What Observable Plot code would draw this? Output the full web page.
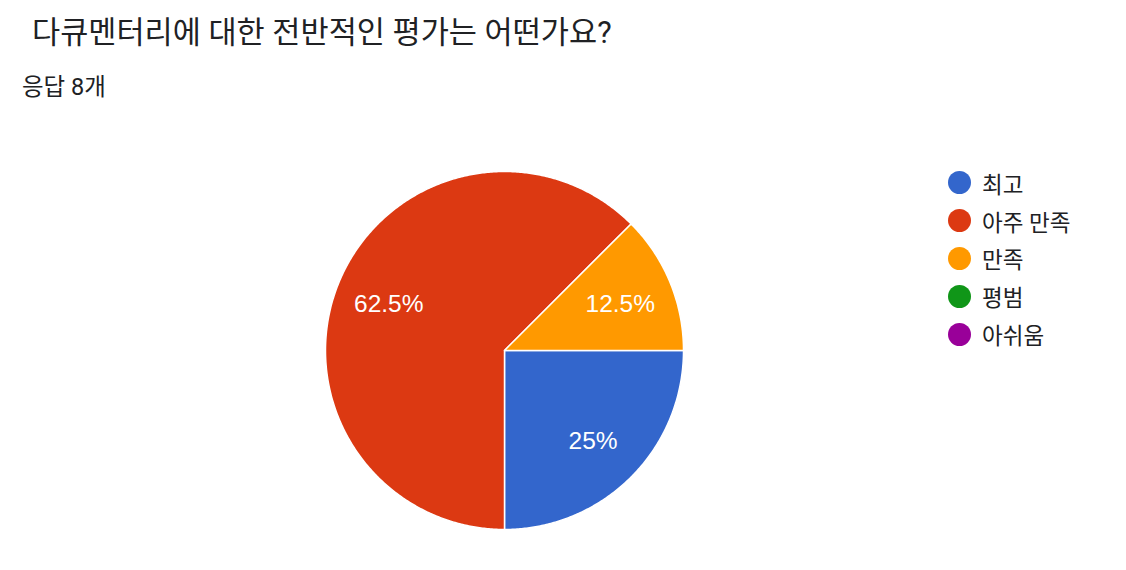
<!DOCTYPE html>
<html><head><meta charset="utf-8">
<script src="https://cdn.jsdelivr.net/npm/d3@7"></script>
<script src="https://cdn.jsdelivr.net/npm/@observablehq/plot@0.6"></script>
<style>
body{margin:0;background:#fff;font-family:Roboto,"Noto Sans CJK KR",sans-serif;}
#wrap{position:relative;width:1126px;height:570px;overflow:hidden}
#head{height:110px;position:relative}
#title{position:absolute;left:32px;top:12px;font-size:30.6px;color:#202124;white-space:nowrap;line-height:42px}
#sub{position:absolute;left:22px;top:72px;font-size:23.5px;color:#202124;white-space:nowrap;line-height:30px}
#legend{position:absolute;left:948px;top:164px}
.row{display:flex;align-items:center;height:37.8px;font-size:22.5px;color:#202124;white-space:nowrap}
.dot{width:23px;height:23px;border-radius:50%;margin-right:11px;flex:none}
</style></head>
<body>
<div id="wrap">
  <div id="head"><div id="title"></div><div id="sub"></div></div>
  <div id="chart"></div>
  <div id="legend"></div>
</div>
<script>
const titleText = "다큐멘터리에 대한 전반적인 평가는 어떤가요?";
const subtitleText = "응답 8개";
const categories = ["최고", "아주 만족", "만족", "평범", "아쉬움"];
const counts = [2, 5, 1, 0, 0];
const colors = ["#3366cc", "#dc3912", "#ff9900", "#109618", "#990099"];

document.getElementById("title").textContent = titleText;
document.getElementById("sub").textContent = subtitleText;

const total = d3.sum(counts);
const startDeg = 90;
let acc = startDeg;
const pts = [], labels = [];
categories.forEach((c, i) => {
  const span = counts[i] / total * 360;
  if (span <= 0) return;
  const a0 = acc, a1 = acc + span; acc = a1;
  pts.push({cat: c, x: 0, y: 0});
  const n = Math.max(2, Math.ceil(span * 2));
  for (let k = 0; k <= n; k++) {
    const a = (a0 + span * k / n) * Math.PI / 180;
    pts.push({cat: c, x: Math.sin(a), y: Math.cos(a)});
  }
  pts.push({cat: c, x: 0, y: 0});
  const m = (a0 + a1) / 2 * Math.PI / 180;
  const pct = counts[i] / total * 100;
  labels.push({cat: c, x: 0.7 * Math.sin(m), y: 0.7 * Math.cos(m), text: `${+pct.toFixed(1)}%`});
});

const cx = 504, cy = 240, r = 179;
const chart = Plot.plot({
  width: 1126,
  height: 460,
  margin: 0,
  x: {domain: [-1, 1], range: [cx - r, cx + r], axis: null},
  y: {domain: [-1, 1], range: [cy + r, cy - r], axis: null},
  color: {domain: categories, range: colors},
  marks: [
    Plot.line(pts, {x: "x", y: "y", z: "cat", fill: "cat", stroke: "white", strokeWidth: 1.5, strokeLinejoin: "round"}),
    Plot.text(labels, {x: "x", y: "y", text: "text", fill: "white", fontSize: 24.5, dy: 2, fontFamily: "'Liberation Sans', Arial, sans-serif"})
  ]
});
document.getElementById("chart").appendChild(chart);

const legend = document.getElementById("legend");
categories.forEach((c, i) => {
  const row = document.createElement("div");
  row.className = "row";
  const dot = document.createElement("span");
  dot.className = "dot";
  dot.style.background = colors[i];
  const t = document.createElement("span");
  t.textContent = c;
  row.appendChild(dot); row.appendChild(t);
  legend.appendChild(row);
});
</script>
</body></html>
